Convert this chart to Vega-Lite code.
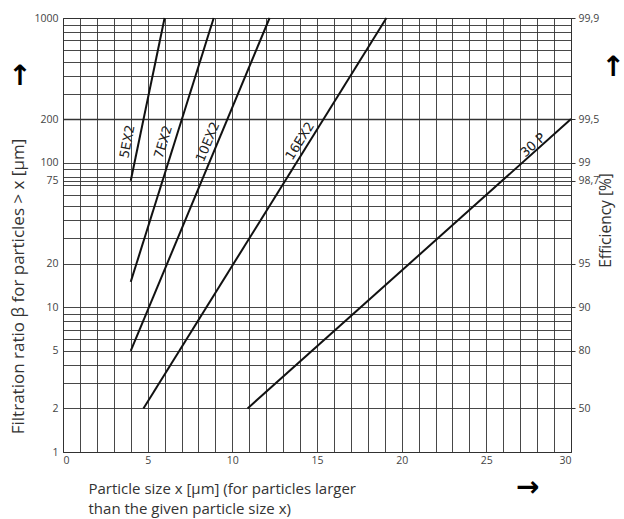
{
  "$schema": "https://vega.github.io/schema/vega-lite/v6.json",
  "width": 508,
  "height": 434,
  "autosize": {"type": "none"},
  "padding": {"left": 63, "top": 18, "right": 53, "bottom": 67},
  "background": "white",
  "config": {
    "view": {"stroke": "#222", "strokeWidth": 1},
    "font": "Open Sans",
    "axis": {"labelFont": "Open Sans", "titleFont": "Open Sans", "labelColor": "#444", "titleColor": "#444", "titleFontWeight": "normal", "labelFontSize": 10.5, "domain": false}
  },
  "datasets": {
    "lines": [
      {"filter": "5EX2", "x": 4, "beta": 75},
      {"filter": "5EX2", "x": 6, "beta": 1000},
      {"filter": "7EX2", "x": 4, "beta": 15},
      {"filter": "7EX2", "x": 8.9, "beta": 1000},
      {"filter": "10EX2", "x": 4, "beta": 5},
      {"filter": "10EX2", "x": 12.2, "beta": 1000},
      {"filter": "16EX2", "x": 4.75, "beta": 2},
      {"filter": "16EX2", "x": 19.1, "beta": 1000},
      {"filter": "30 P", "x": 10.9, "beta": 2},
      {"filter": "30 P", "x": 30, "beta": 200}
    ],
    "labels": [
      {"label": "5EX2", "x": 3.81, "beta": 140},
      {"label": "7EX2", "x": 5.93, "beta": 139},
      {"label": "10EX2", "x": 8.56, "beta": 139},
      {"label": "16EX2", "x": 14.0, "beta": 141},
      {"label": "30 P", "x": 27.76, "beta": 132}
    ],
    "arrows": [
      {"sym": "↑", "x": -2.54, "beta": 391},
      {"sym": "↑", "x": 32.5, "beta": 450},
      {"sym": "→", "x": 27.45, "beta": 0.56}
    ]
  },
  "resolve": {"axis": {"y": "independent"}},
  "layer": [
    {
      "data": {"name": "lines"},
      "mark": {"type": "line", "color": "#111", "strokeWidth": 2},
      "encoding": {
        "detail": {"field": "filter"},
        "x": {
          "field": "x", "type": "quantitative",
          "scale": {"domain": [0, 30], "nice": false, "zero": false},
          "axis": {
            "values": [0,1,2,3,4,5,6,7,8,9,10,11,12,13,14,15,16,17,18,19,20,21,22,23,24,25,26,27,28,29,30],
            "tickCount": 100,
            "labelOverlap": false,
            "format": "d",
            "labelExpr": "datum.value % 5 == 0 ? datum.label : ''",
            "grid": true, "gridColor": "#333", "gridWidth": 0.9,
            "ticks": false, "labelPadding": 3,
            "title": ["Particle size x [µm] (for particles larger", "than the given particle size x)"],
            "titleAnchor": "start", "titleAlign": "left", "titleX": 25, "titleY": 29,
            "titleBaseline": "top", "titleFontSize": 15, "titleLineHeight": 20, "titleColor": "#333"
          }
        },
        "y": {
          "field": "beta", "type": "quantitative",
          "scale": {"type": "log", "domain": [1, 1000], "nice": false},
          "axis": {
            "values": [1,2,3,4,5,6,7,8,9,10,20,30,40,50,60,70,75,80,90,100,200,300,400,500,600,700,800,900,1000],
            "tickCount": 100,
            "labelOverlap": false,
            "format": "d",
            "labelExpr": "indexof([1,2,5,10,20,75,100,200,1000], datum.value) >= 0 ? datum.label : ''",
            "grid": true, "gridColor": "#333",
            "gridWidth": {"condition": {"test": "datum.value == 200", "value": 1.6}, "value": 0.9},
            "ticks": false, "labelPadding": 5,
            "title": "Filtration ratio β for particles > x [µm]",
            "titleX": -45, "titleY": 268, "titleAngle": -90, "titleAlign": "center", "titleBaseline": "middle",
            "titleFontSize": 17, "titleColor": "#333"
          }
        }
      }
    },
    {
      "data": {"name": "lines"},
      "mark": {"type": "line", "strokeOpacity": 0},
      "encoding": {
        "detail": {"field": "filter"},
        "x": {"field": "x", "type": "quantitative"},
        "y": {
          "field": "beta", "type": "quantitative",
          "axis": {
            "orient": "right",
            "values": [2,5,10,20,75,100,200,1000],
            "tickCount": 100,
            "labelOverlap": false,
            "labelExpr": "{'2':'50','5':'80','10':'90','20':'95','75':'98,7','100':'99','200':'99,5','1000':'99,9'}[datum.value + '']",
            "grid": false, "ticks": true, "tickSize": 4, "tickColor": "#333", "labelPadding": 3,
            "title": "Efficiency [%]",
            "titleX": 34, "titleY": 202, "titleAngle": -90, "titleAlign": "center", "titleBaseline": "middle",
            "titleFontSize": 15.5, "titleColor": "#333"
          }
        }
      }
    },
    {
      "data": {"name": "labels"},
      "transform": [{"filter": "datum.label == '5EX2'"}],
      "mark": {"type": "text", "angle": -79, "font": "DejaVu Sans", "fontSize": 13, "color": "#222"},
      "encoding": {"x": {"field": "x", "type": "quantitative"}, "y": {"field": "beta", "type": "quantitative", "axis": null}, "text": {"field": "label"}}
    },
    {
      "data": {"name": "labels"},
      "transform": [{"filter": "datum.label == '7EX2'"}],
      "mark": {"type": "text", "angle": -73, "font": "DejaVu Sans", "fontSize": 13, "color": "#222"},
      "encoding": {"x": {"field": "x", "type": "quantitative"}, "y": {"field": "beta", "type": "quantitative", "axis": null}, "text": {"field": "label"}}
    },
    {
      "data": {"name": "labels"},
      "transform": [{"filter": "datum.label == '10EX2'"}],
      "mark": {"type": "text", "angle": -67, "font": "DejaVu Sans", "fontSize": 13, "color": "#222"},
      "encoding": {"x": {"field": "x", "type": "quantitative"}, "y": {"field": "beta", "type": "quantitative", "axis": null}, "text": {"field": "label"}}
    },
    {
      "data": {"name": "labels"},
      "transform": [{"filter": "datum.label == '16EX2'"}],
      "mark": {"type": "text", "angle": -58, "font": "DejaVu Sans", "fontSize": 13, "color": "#222"},
      "encoding": {"x": {"field": "x", "type": "quantitative"}, "y": {"field": "beta", "type": "quantitative", "axis": null}, "text": {"field": "label"}}
    },
    {
      "data": {"name": "labels"},
      "transform": [{"filter": "datum.label == '30 P'"}],
      "mark": {"type": "text", "angle": -42, "font": "DejaVu Sans", "fontSize": 13, "color": "#222"},
      "encoding": {"x": {"field": "x", "type": "quantitative"}, "y": {"field": "beta", "type": "quantitative", "axis": null}, "text": {"field": "label"}}
    },
    {
      "data": {"name": "arrows"},
      "mark": {"type": "text", "font": "DejaVu Sans", "fontWeight": "bold", "fontSize": 28, "color": "#000", "baseline": "middle"},
      "encoding": {"x": {"field": "x", "type": "quantitative"}, "y": {"field": "beta", "type": "quantitative", "axis": null}, "text": {"field": "sym"}}
    }
  ]
}
